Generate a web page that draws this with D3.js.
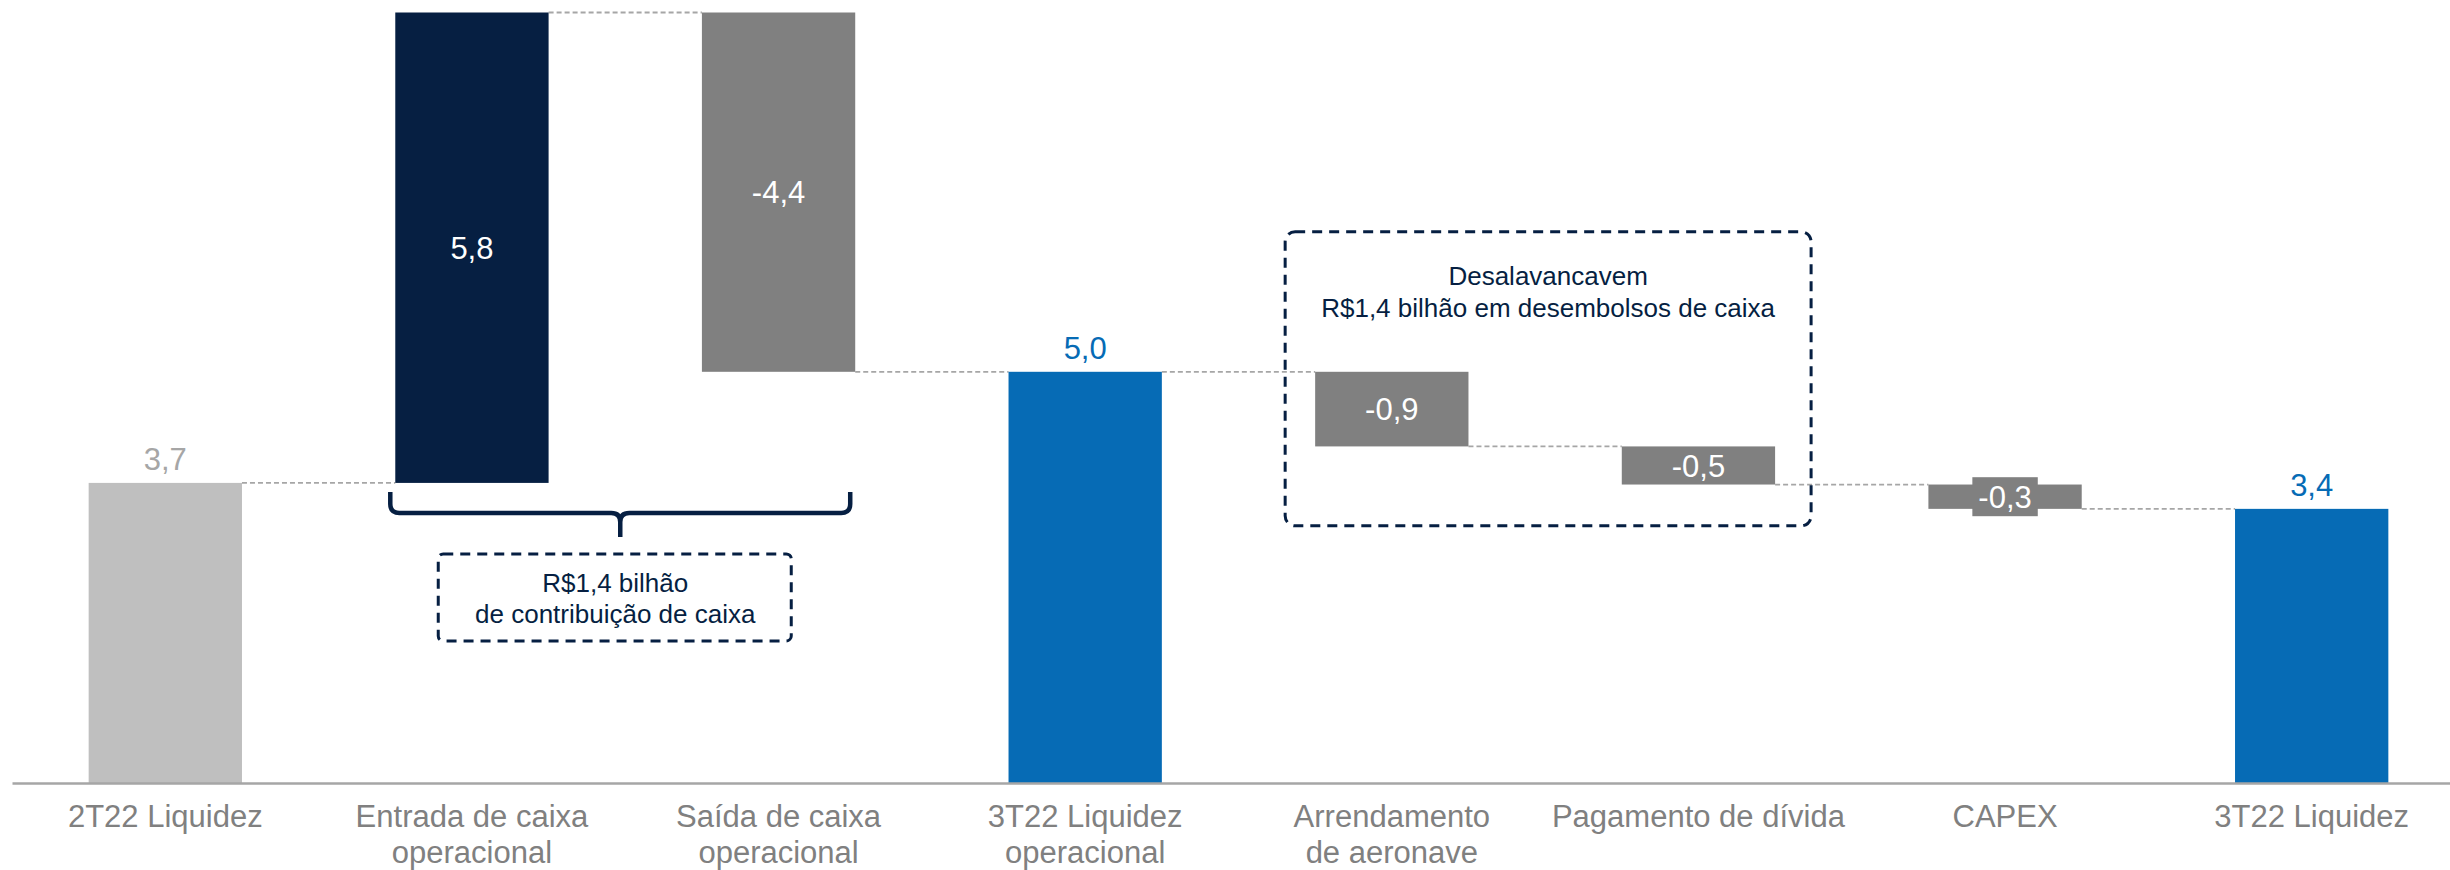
<!DOCTYPE html>
<html>
<head>
<meta charset="utf-8">
<script src="https://cdn.jsdelivr.net/npm/d3@7"></script>
<style>
  body { margin: 0; background: #fff; }
  svg { display: block; font-family: "Liberation Sans", Arial, sans-serif; }
</style>
</head>
<body>
<div id="viz"></div>
<script>
// waterfall data (R$ bi)
var categories = ['2T22 Liquidez', 'Entrada de caixa\noperacional', 'Saída de caixa\noperacional',
                  '3T22 Liquidez\noperacional', 'Arrendamento\nde aeronave', 'Pagamento de dívida',
                  'CAPEX', '3T22 Liquidez'];
var values = [3.7, 5.8, -4.43, 5.07, -0.92, -0.47, -0.30, 3.38];
var barTypes = ['total', 'delta', 'delta', 'total', 'delta', 'delta', 'delta', 'total'];
var valueLabels = ['3,7', '5,8', '-4,4', '5,0', '-0,9', '-0,5', '-0,3', '3,4'];

var barColors = ['#bfbfbf', '#061f42', '#808080', '#066bb5', '#808080', '#808080', '#808080', '#066bb5'];
var totalLabelColors = ['#a6a6a6', null, null, '#066bb5', null, null, null, '#066bb5'];

var width = 2450,
    height = 870,
    axisY = 783,
    navy = '#061f42';

// running totals
var running = 0;
var steps = categories.map(function(c, i) {
  var y0, y1;
  if (barTypes[i] === 'total') {
    y0 = 0; y1 = values[i];
  } else {
    y0 = running; y1 = running + values[i];
  }
  running = y1;
  return {cat: c, i: i, y0: y0, y1: y1, level: y1};
});

var xScale = d3.scaleBand()
  .domain(categories)
  .range([12, 2465])
  .paddingInner(0.5)
  .paddingOuter(0.25);

var yScale = d3.scaleLinear()
  .domain([0, 9.5])
  .range([axisY, 12.5]);

var bw = xScale.bandwidth();

var svg = d3.select('#viz').append('svg')
  .attr('width', width)
  .attr('height', height)
  .style('background', '#fff');

// connectors
var links = steps.slice(0, -1).map(function(s, i) {
  return {x1: xScale(s.cat) + bw, x2: xScale(steps[i + 1].cat), level: s.level};
});
svg.append('g').selectAll('line').data(links)
  .enter().append('line')
  .attr('x1', function(d) { return d.x1; })
  .attr('x2', function(d) { return d.x2; })
  .attr('y1', function(d) { return yScale(d.level); })
  .attr('y2', function(d) { return yScale(d.level); })
  .attr('stroke', '#a6a6a6')
  .attr('stroke-width', 1.8)
  .attr('stroke-dasharray', '5,3');

// bars
svg.append('g').selectAll('rect').data(steps)
  .enter().append('rect')
  .attr('x', function(d) { return xScale(d.cat); })
  .attr('width', bw)
  .attr('y', function(d) { return yScale(Math.max(d.y0, d.y1)); })
  .attr('height', function(d) { return Math.abs(yScale(d.y0) - yScale(d.y1)); })
  .attr('fill', function(d) { return barColors[d.i]; });

// axis
var xAxis = d3.axisBottom(xScale).tickSize(0).tickPadding(0);
var gAxis = svg.append('g')
  .attr('transform', 'translate(0,' + axisY + ')')
  .call(xAxis);
gAxis.select('.domain').attr('stroke', '#a6a6a6').attr('stroke-width', 2.5);
gAxis.selectAll('.tick text').each(function(d) {
  var t = d3.select(this).text(null)
    .attr('y', 44).attr('dy', null)
    .attr('fill', '#808080')
    .style('font-size', '31px')
    .style('font-family', '"Liberation Sans", Arial, sans-serif');
  d.split('\n').forEach(function(line, k) {
    t.append('tspan').attr('x', 0).attr('dy', k === 0 ? 0 : 36).text(line);
  });
});

// value labels
var labels = svg.append('g').style('font-size', '31px').attr('text-anchor', 'middle');
steps.forEach(function(s) {
  var cx = xScale(s.cat) + bw / 2;
  if (barTypes[s.i] === 'total') {
    labels.append('text')
      .attr('x', cx)
      .attr('y', yScale(s.y1) - 13)
      .attr('fill', totalLabelColors[s.i])
      .text(valueLabels[s.i]);
  } else {
    var cy = (yScale(s.y0) + yScale(s.y1)) / 2;
    var h = Math.abs(yScale(s.y0) - yScale(s.y1));
    var g = labels.append('g');
    var txt = g.append('text')
      .attr('x', cx)
      .attr('y', cy)
      .attr('dy', '0.36em')
      .attr('fill', '#fff')
      .text(valueLabels[s.i]);
    if (h < 30) {
      var bb = txt.node().getBBox();
      g.insert('rect', 'text')
        .attr('x', bb.x - 6)
        .attr('width', bb.width + 12)
        .attr('y', cy - 19.5)
        .attr('height', 39)
        .attr('fill', barColors[s.i]);
    }
  }
});

// brace under inflow / outflow
var bL = xScale(categories[1]) - 5,
    bR = xScale(categories[2]) + bw - 5,
    bC = (bL + bR) / 2,
    bTop = yScale(values[0]) + 9,
    bMid = bTop + 21,
    bTip = bMid + 24;
var brace = d3.path();
brace.moveTo(bL, bTop);
brace.lineTo(bL, bMid - 9);
brace.quadraticCurveTo(bL, bMid, bL + 9, bMid);
brace.lineTo(bC - 9, bMid);
brace.quadraticCurveTo(bC, bMid, bC, bMid + 9);
brace.lineTo(bC, bTip);
brace.moveTo(bC, bMid + 9);
brace.quadraticCurveTo(bC, bMid, bC + 9, bMid);
brace.lineTo(bR - 9, bMid);
brace.quadraticCurveTo(bR, bMid, bR, bMid - 9);
brace.lineTo(bR, bTop);
svg.append('path')
  .attr('d', brace.toString())
  .attr('fill', 'none')
  .attr('stroke', navy)
  .attr('stroke-width', 4.5);

// box 1
var box1 = svg.append('g');
box1.append('rect')
  .attr('x', bC - 182).attr('y', bTip + 17)
  .attr('width', 353).attr('height', 87)
  .attr('rx', 5)
  .attr('fill', 'none')
  .attr('stroke', navy)
  .attr('stroke-width', 3)
  .attr('stroke-dasharray', '10,7');
box1.selectAll('text').data(['R$1,4 bilhão', 'de contribuição de caixa'])
  .enter().append('text')
  .attr('x', bC - 5)
  .attr('y', function(d, i) { return bTip + 55 + i * 31; })
  .attr('text-anchor', 'middle')
  .attr('fill', navy)
  .style('font-size', '26px')
  .text(function(d) { return d; });

// box 2
var b2L = xScale(categories[4]) - 30,
    b2R = xScale(categories[5]) + bw + 36,
    b2T = yScale(values[3]) - 140,
    b2B = yScale(values[7]) + 17;
var box2 = svg.append('g');
box2.append('rect')
  .attr('x', b2L).attr('y', b2T)
  .attr('width', b2R - b2L).attr('height', b2B - b2T)
  .attr('rx', 10)
  .attr('fill', 'none')
  .attr('stroke', navy)
  .attr('stroke-width', 3)
  .attr('stroke-dasharray', '10,7');
box2.selectAll('text').data(['Desalavancavem', 'R$1,4 bilhão em desembolsos de caixa'])
  .enter().append('text')
  .attr('x', (b2L + b2R) / 2)
  .attr('y', function(d, i) { return b2T + 53 + i * 32; })
  .attr('text-anchor', 'middle')
  .attr('fill', navy)
  .style('font-size', '26px')
  .text(function(d) { return d; });
</script>
</body>
</html>
